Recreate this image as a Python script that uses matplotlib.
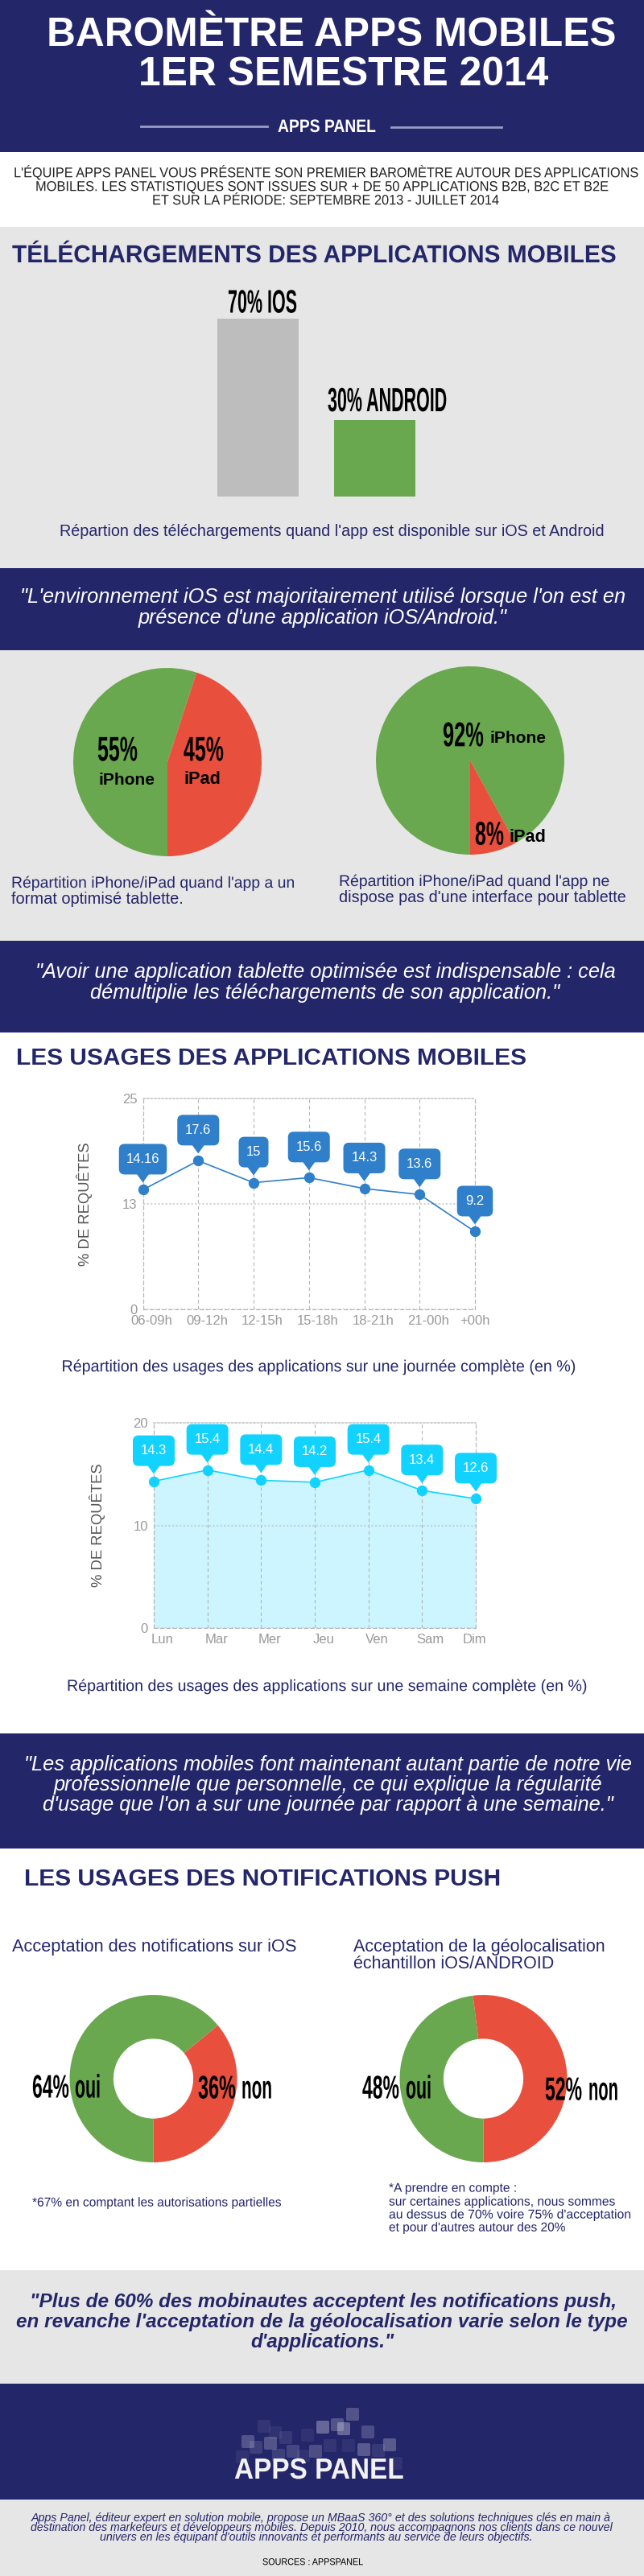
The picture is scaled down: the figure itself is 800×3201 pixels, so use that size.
import matplotlib
matplotlib.use('Agg')
import matplotlib.pyplot as plt
from matplotlib import font_manager
from matplotlib.patches import Rectangle, FancyBboxPatch, Polygon
from matplotlib.patheffects import AbstractPathEffect
from matplotlib.transforms import Affine2D, Bbox

# data
barLabels = ['70% IOS', '30% ANDROID']
barValues = [70, 30]
pieLeft = [55, 45]
pieRight = [92, 8]
donutLeft = [64, 36]
donutRight = [48, 52]

dayLabels = ['06-09h', '09-12h', '12-15h', '15-18h', '18-21h', '21-00h', '+00h']
dayValues = [14.16, 17.6, 15, 15.6, 14.3, 13.6, 9.2]
dayTicks = [0, 12.5, 25]
dayTickLabels = ['0', '13', '25']

weekLabels = ['Lun', 'Mar', 'Mer', 'Jeu', 'Ven', 'Sam', 'Dim']
weekValues = [14.3, 15.4, 14.4, 14.2, 15.4, 13.4, 12.6]
weekTicks = [0, 10, 20]
weekTickLabels = ['0', '10', '20']

NAVY = '#24266a'
GREY_BG = '#e6e6e6'
GREEN = '#6aa84f'
RED = '#e94f3d'
W, H = 800, 3201

SANS = 'Liberation Sans'
try:
	font_manager.findfont('Liberation Sans Narrow', fallback_to_default=False)
	NARROW = 'Liberation Sans Narrow'
except ValueError:
	NARROW = 'Liberation Sans'

fig = plt.figure(figsize=(W / 100, H / 100), dpi=100, facecolor='white')
renderer = fig.canvas.get_renderer()


class Squeeze(AbstractPathEffect):
	# narrows the glyphs around one x position, the text stays a normal Text
	def __init__(self, cx, sx):
		super().__init__()
		self.squeeze = Affine2D().translate(-cx, 0).scale(sx, 1).translate(cx, 0)

	def draw_path(self, renderer, gc, tpath, affine, rgbFace=None):
		renderer.draw_path(gc, tpath, affine + self.squeeze, rgbFace)


def page_axes(z):
	a = fig.add_axes([0, 0, 1, 1], zorder=z)
	a.set_xlim(0, W)
	a.set_ylim(H, 0)
	a.axis('off')
	return a


def box_axes(x0, x1, y0, y1):
	# axes placed by pixel box, y counted from the top of the page
	return fig.add_axes([x0 / W, 1 - y1 / H, (x1 - x0) / W, (y1 - y0) / H], zorder=1, facecolor='none')


bg = page_axes(0)
top = page_axes(2)

# page bands
for y0, y1, c in [(0, 189, NAVY), (282, 706, GREY_BG), (706, 808, NAVY), (808, 1169, GREY_BG),
		(1169, 1283, NAVY), (2154, 2297, NAVY), (2821, 2962, GREY_BG), (2962, 3106, NAVY), (3106, 3201, GREY_BG)]:
	bg.add_patch(Rectangle((0, y0), W, y1 - y0, color=c, lw=0))


def txt(x0, x1, y, s, cap, color=NAVY, family=SANS, weight='normal', style='normal'):
	# cap = capital height in pixels, y = middle of the capitals, x0-x1 = width taken in the reference
	t = top.text((x0 + x1) / 2, y + cap / 2, s, color=color, family=family, weight=weight, style=style,
		ha='center', va='baseline', fontsize=cap / 0.716 * 0.72)
	box = t.get_window_extent(renderer)
	if box.width > x1 - x0:
		t.set_path_effects([Squeeze((x0 + x1) / 2, (x1 - x0) / box.width)])
		# report the squeezed size, not the natural one
		t.get_window_extent = lambda renderer=None, dpi=None: Bbox([[x0, box.y0], [x1, box.y1]])
	else:
		t.set_fontsize(t.get_fontsize() * (x1 - x0) / box.width)
	return t


# header
txt(59, 764, 39.7, 'BAROMÈTRE APPS MOBILES', 35, color='white', weight='bold')
txt(172, 681, 89, '1ER SEMESTRE 2014', 35, color='white', weight='bold')
txt(345, 467, 156, 'APPS PANEL', 16, color='white', weight='bold')
top.plot([175, 332], [157, 157], color='#9a9cc4', lw=2)
top.plot([486, 623], [158, 158], color='#9a9cc4', lw=2)

txt(17, 791, 214, "L'ÉQUIPE APPS PANEL VOUS PRÉSENTE SON PREMIER BAROMÈTRE AUTOUR DES APPLICATIONS", 12.5, color='#222222')
txt(44, 755, 231, 'MOBILES. LES STATISTIQUES SONT ISSUES SUR + DE 50 APPLICATIONS B2B, B2C ET B2E', 12.5, color='#222222')
txt(189, 619, 248, 'ET SUR LA PÉRIODE: SEPTEMBRE 2013 - JUILLET 2014', 12.5, color='#222222')

# downloads bars
txt(15, 765, 315, 'TÉLÉCHARGEMENTS DES APPLICATIONS MOBILES', 22, weight='bold')
axBar = box_axes(248, 538, 396, 617)
axBar.bar([0, 1], barValues, width=0.7, color=['#bdbdbd', GREEN])
axBar.set_xlim(-0.5, 1.5)
axBar.set_ylim(0, 70)
axBar.axis('off')
txt(283, 369, 374, barLabels[0], 29, color='black', family=NARROW, weight='bold')
txt(407, 555, 496, barLabels[1], 30, color='black', family=NARROW, weight='bold')
txt(75, 749, 659, "Répartion des téléchargements quand l'app est disponible sur iOS et Android", 14)

# quote 1
txt(25, 777, 741, "\"L'environnement iOS est majoritairement utilisé lorsque l'on est en", 17, color='white', style='italic')
txt(170, 631, 767, "présence d'une application iOS/Android.\"", 17, color='white', style='italic')


def pie(cx, cy, r, values, hole=None):
	a = box_axes(cx - r, cx + r, cy - r, cy + r)
	props = {'linewidth': 0}
	if hole:
		props['width'] = 1 - hole
	a.pie(values, colors=[GREEN, RED], startangle=-90, counterclock=False, radius=1, wedgeprops=props)
	a.set_xlim(-1, 1)
	a.set_ylim(-1, 1)


pie(208, 947, 117, pieLeft)
pie(584, 945, 117, pieRight)
txt(121, 171, 930, f'{pieLeft[0]}%', 30.6, color='black', family=NARROW, weight='bold')
txt(123, 193, 968, 'iPhone', 14.5, color='black', weight='bold')
txt(228, 278, 930, f'{pieLeft[1]}%', 30.6, color='black', family=NARROW, weight='bold')
txt(228, 274, 966, 'iPad', 15, color='black', weight='bold')
txt(550, 601, 912, f'{pieRight[0]}%', 30.6, color='black', family=NARROW, weight='bold')
txt(608, 678, 916, 'iPhone', 14.5, color='black', weight='bold')
txt(590, 626, 1035, f'{pieRight[1]}%', 29.5, color='black', family=NARROW, weight='bold')
txt(632, 678, 1039, 'iPad', 15, color='black', weight='bold')
txt(14, 367, 1096, "Répartition iPhone/iPad quand l'app a un", 14)
txt(14, 227, 1116, 'format optimisé tablette.', 14)
txt(421, 758, 1094, "Répartition iPhone/iPad quand l'app ne", 14)
txt(421, 777, 1114, "dispose pas d'une interface pour tablette", 14)

# quote 2
txt(43, 765, 1207, '"Avoir une application tablette optimisée est indispensable : cela', 17, color='white', style='italic')
txt(111, 697, 1232, 'démultiplie les téléchargements de son application."', 17, color='white', style='italic')

txt(20, 653, 1313, 'LES USAGES DES APPLICATIONS MOBILES', 20.7, weight='bold')


def line_chart(box, values, labels, yticks, yticklabels, ymax, color, ylab_x, shifts, fill=None):
	a = box_axes(*box)
	xs = list(range(len(values)))
	a.set_xlim(0, len(values) - 1)
	a.set_ylim(0, ymax)
	if fill:
		a.fill_between(xs, values, 0, color=fill, lw=0, zorder=1)
	a.plot(xs, values, color=color, lw=1.2, marker='o', ms=8.6, clip_on=False, zorder=3)
	# grid on the major ticks, the labels sit a little to the right on minor ticks
	step = (box[1] - box[0]) / (len(values) - 1)
	a.xaxis.remove_overlapping_locs = False
	a.set_xticks(xs)
	a.set_xticklabels([])
	a.set_xticks([x + dx / step for x, dx in zip(xs, shifts)], labels=labels, minor=True, color='#999999',
		family=SANS, fontsize=12)
	a.set_yticks(yticks)
	a.set_yticklabels(yticklabels, color='#999999', family=SANS, fontsize=12)
	a.tick_params(which='both', length=0, pad=5)
	a.grid(axis='x', color='#b5b5b5', lw=0.8, ls=(0, (4, 3)))
	a.grid(axis='y', color='#c8c8c8', lw=1.1, ls=(0, (1.5, 1.5)))
	for side, sp in a.spines.items():
		sp.set_color('#c8c8c8' if side == 'top' else '#b5b5b5')
		sp.set_linewidth(1.1 if side == 'top' else 0.8)
		sp.set_linestyle((0, (1.5, 1.5)) if side == 'top' else (0, (4, 3)))
	top.text(ylab_x, (box[2] + box[3]) / 2, '% DE REQUÊTES', rotation=90, color='#555555', family=SANS,
		fontsize=13.3, ha='center', va='center')
	# value bubbles above each point
	for x, v in zip(xs, values):
		s = f'{v:g}'
		px, py = top.transData.inverted().transform(a.transData.transform((x, v)))
		w = 22 + 7.5 * len(s)
		tip = py - 9
		top.add_patch(FancyBboxPatch((px - w / 2, tip - 48), w, 38, boxstyle='round,pad=0,rounding_size=7',
			fc=color, ec='none'))
		top.add_patch(Polygon([(px - 8, tip - 11), (px + 8, tip - 11), (px, tip)], fc=color, ec='none'))
		top.text(px, tip - 29, s, color='white', family=SANS, fontsize=12, ha='center', va='center')


line_chart((177.5, 590, 1364.7, 1627), dayValues, dayLabels, dayTicks, dayTickLabels, 25, '#2f7fca', 105,
	[11, 11, 11, 11, 11, 11, 0])
txt(76.5, 716, 1697, 'Répartition des usages des applications sur une journée complète (en %)', 14.5)

line_chart((191, 591, 1768, 2023), weekValues, weekLabels, weekTicks, weekTickLabels, 20, '#12d3ff', 121,
	[11, 11, 11, 11, 11, 10, -2], fill='#ccf5ff')
txt(83, 731, 2094, 'Répartition des usages des applications sur une semaine complète (en %)', 14.3)

# quote 3
txt(31, 785, 2192, '"Les applications mobiles font maintenant autant partie de notre vie', 16.5, color='white', style='italic')
txt(68, 746, 2217, 'professionnelle que personnelle, ce qui explique la régularité', 16.5, color='white', style='italic')
txt(55, 760, 2242, "d'usage que l'on a sur une journée par rapport à une semaine.\"", 16.5, color='white', style='italic')

# push notifications
txt(31, 621, 2333, 'LES USAGES DES NOTIFICATIONS PUSH', 20.7, weight='bold')
txt(14, 369, 2417, 'Acceptation des notifications sur iOS', 15)
txt(438, 753, 2417, 'Acceptation de la géolocalisation', 15)
txt(438, 689, 2438, 'échantillon iOS/ANDROID', 15)
pie(190.5, 2583, 104, donutLeft, hole=0.477)
pie(600.5, 2583, 104, donutRight, hole=0.477)
txt(40, 86, 2592, f'{donutLeft[0]}%', 29, color='black', family=NARROW, weight='bold')
txt(93, 125, 2592, 'oui', 29, color='black', family=NARROW, weight='bold')
txt(246, 293, 2593, f'{donutLeft[1]}%', 29, color='black', family=NARROW, weight='bold')
txt(300, 338, 2593, 'non', 29, color='black', family=NARROW, weight='bold')
txt(450, 496, 2593, f'{donutRight[0]}%', 29, color='black', family=NARROW, weight='bold')
txt(504, 536, 2593, 'oui', 29, color='black', family=NARROW, weight='bold')
txt(677, 723, 2595, f'{donutRight[1]}%', 29, color='black', family=NARROW, weight='bold')
txt(731, 768, 2595, 'non', 29, color='black', family=NARROW, weight='bold')

txt(40, 349, 2736, '*67% en comptant les autorisations partielles', 11.3)
txt(483, 642, 2718, '*A prendre en compte :', 11.3)
txt(483, 764, 2735, 'sur certaines applications, nous sommes', 11.3)
txt(483, 783, 2751, "au dessus de 70% voire 75% d'acceptation", 11.3)
txt(483, 702, 2767, "et pour d'autres autour des 20%", 11.3)

# quote 4
txt(35, 768, 2859, '"Plus de 60% des mobinautes acceptent les notifications push,', 16, style='italic', weight='bold')
txt(20, 780, 2884, "en revanche l'acceptation de la géolocalisation varie selon le type", 16, style='italic', weight='bold')
txt(311, 490, 2909, "d'applications.\"", 16, style='italic', weight='bold')

# logo tiles
logoTiles = [(438, 3000, .35), (328, 3015, .12), (401, 3016, .5), (419, 3013, .35), (427, 3018, .5), (457, 3022, .3),
	(308, 3034, .35), (318, 3041, .2), (336, 3036, .35), (355, 3029, .15), (342, 3023, .1), (382, 3026, .1),
	(484, 3038, .4), (452, 3044, .4), (392, 3046, .3), (364, 3046, .25), (410, 3039, .12), (433, 3039, .1),
	(470, 3045, .15), (346, 3051, .2), (377, 3052, .1), (301, 3053, .1), (492, 3061, .1)]
for tx, ty, ta in logoTiles:
	top.add_patch(FancyBboxPatch((tx - 8, ty - 8), 16, 16, boxstyle='round,pad=0,rounding_size=2',
		fc='white', ec='none', alpha=ta * 0.6))
txt(291, 501, 3067, 'APPS PANEL', 26, color='#f2f2f2', weight='bold')

# footer
txt(38, 759, 3128, 'Apps Panel, éditeur expert en solution mobile, propose un MBaaS 360° et des solutions techniques clés en main à', 9.5, style='italic')
txt(38, 760, 3140, 'destination des marketeurs et développeurs mobiles. Depuis 2010, nous accompagnons nos clients dans ce nouvel', 9.5, style='italic')
txt(124, 661, 3152, "univers en les équipant d'outils innovants et performants au service de leurs objectifs.", 9.5, style='italic')
txt(326, 451, 3183, 'SOURCES : APPSPANEL', 8.5, color='black', family=NARROW)

fig.savefig('out.png', dpi=100, facecolor='white')
